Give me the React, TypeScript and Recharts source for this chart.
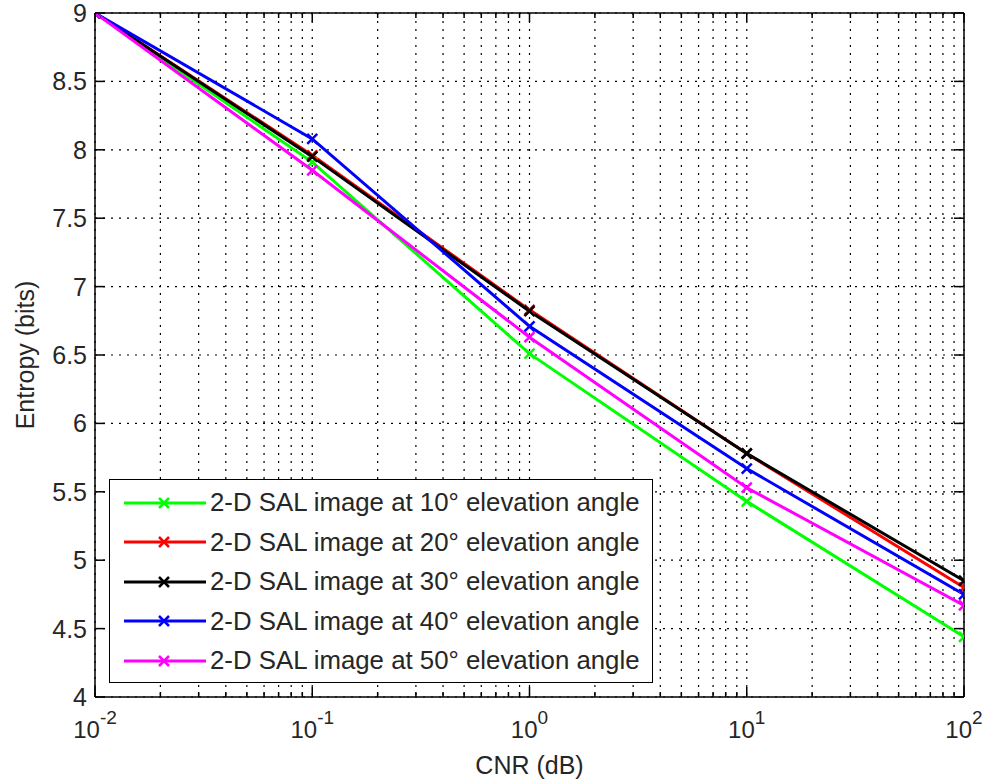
import React from "react";
import {
  LineChart,
  Line,
  XAxis,
  YAxis,
  CartesianGrid,
  Legend,
} from "recharts";

// CNR values (log axis) and entropy per elevation angle
const cnr = [0.01, 0.1, 1, 10, 100];
const sal10 = [9, 7.91, 6.51, 5.43, 4.44];
const sal20 = [9, 7.96, 6.83, 5.78, 4.8];
const sal30 = [9, 7.95, 6.82, 5.78, 4.85];
const sal40 = [9, 8.08, 6.71, 5.67, 4.75];
const sal50 = [9, 7.85, 6.63, 5.53, 4.67];

const decades = [0.01, 0.1, 1, 10];
const minorSteps = [1, 2, 3, 4, 5, 6, 7, 8, 9];
const decadeExp = ["-2", "-1", "0", "1", "2"];
const yTicks = [4, 4.5, 5, 5.5, 6, 6.5, 7, 7.5, 8, 8.5, 9];

const xTicks = [
  ...decades.flatMap((d) => minorSteps.map((m) => +(d * m).toPrecision(3))),
  100,
];
const majorTicks = [0.01, 0.1, 1, 10, 100];

const series = [
  { key: "sal10", name: "2-D SAL image at 10° elevation angle", color: "#00ff00" },
  { key: "sal20", name: "2-D SAL image at 20° elevation angle", color: "#ff0000" },
  { key: "sal30", name: "2-D SAL image at 30° elevation angle", color: "#000000" },
  { key: "sal40", name: "2-D SAL image at 40° elevation angle", color: "#0000ff" },
  { key: "sal50", name: "2-D SAL image at 50° elevation angle", color: "#ff00ff" },
];

const data = cnr.map((x, i) => ({
  cnr: x,
  sal10: sal10[i],
  sal20: sal20[i],
  sal30: sal30[i],
  sal40: sal40[i],
  sal50: sal50[i],
}));

const FONT = "'Liberation Sans', Arial, Helvetica, sans-serif";
const TXT = "#262626";

const isMajor = (v: number) => majorTicks.some((m) => Math.abs(m - v) < 1e-9);

const BottomTick = (props: any) => {
  const { x, y, payload } = props;
  const major = isMajor(payload.value);
  const idx = majorTicks.findIndex((m) => Math.abs(m - payload.value) < 1e-9);
  return (
    <g>
      <line x1={x} x2={x} y1={y} y2={y - (major ? 10 : 5)} stroke="#000" strokeWidth={1.5} />
      {major && (
        <text x={x} y={y + 41} textAnchor="middle" fontFamily={FONT} fontSize={24} fill={TXT}>
          <tspan>10</tspan>
          <tspan dy={-14} fontSize={19}>{decadeExp[idx]}</tspan>
        </text>
      )}
    </g>
  );
};

const TopTick = (props: any) => {
  const { x, y, payload } = props;
  const major = isMajor(payload.value);
  return <line x1={x} x2={x} y1={y} y2={y + (major ? 9 : 5)} stroke="#000" strokeWidth={1.5} />;
};

const LeftTick = (props: any) => {
  const { x, y, payload } = props;
  return (
    <g>
      <line x1={x} x2={x + 10} y1={y} y2={y} stroke="#000" strokeWidth={1.5} />
      <text x={x - 8} y={y} textAnchor="end" dominantBaseline="central" fontFamily={FONT} fontSize={25} fill={TXT}>
        {String(payload.value)}
      </text>
    </g>
  );
};

const RightTick = (props: any) => {
  const { x, y } = props;
  return <line x1={x} x2={x - 10} y1={y} y2={y} stroke="#000" strokeWidth={1.5} />;
};

const XLabel = ({ viewBox }: any) => (
  <text
    x={viewBox.x + viewBox.width / 2}
    y={viewBox.y + 77}
    textAnchor="middle"
    fontFamily={FONT}
    fontSize={25}
    fill={TXT}
  >
    CNR (dB)
  </text>
);

const YLabel = ({ viewBox }: any) => {
  const cx = viewBox.x + 25;
  const cy = viewBox.y + viewBox.height / 2;
  return (
    <text
      x={cx}
      y={cy}
      transform={`rotate(-90 ${cx} ${cy})`}
      textAnchor="middle"
      dominantBaseline="central"
      fontFamily={FONT}
      fontSize={25}
      fill={TXT}
    >
      Entropy (bits)
    </text>
  );
};

const cross = (cx: number, cy: number, r: number) =>
  `M${cx - r},${cy - r}L${cx + r},${cy + r}M${cx - r},${cy + r}L${cx + r},${cy - r}`;

const makeDot = (color: string) => (props: any) => {
  const { cx, cy, index } = props;
  return <path key={`d-${index}`} d={cross(cx, cy, 5)} stroke={color} strokeWidth={2.5} fill="none" />;
};

const LegendBox = ({ payload }: any) => (
  <div
    style={{
      width: 544,
      height: 204,
      border: "1.5px solid #000",
      background: "#fff",
      boxSizing: "border-box",
      paddingTop: 3,
    }}
  >
    {(payload || []).map((entry: any) => (
      <div key={entry.value} style={{ display: "flex", alignItems: "center", height: 39.5 }}>
        <svg width={100} height={20} style={{ flex: "none" }}>
          <line x1={14} x2={96} y1={10} y2={10} stroke={entry.color} strokeWidth={3} />
          <path d={cross(54, 10, 5)} stroke={entry.color} strokeWidth={2.5} fill="none" />
        </svg>
        <span style={{ fontFamily: FONT, fontSize: 25.8, color: TXT, whiteSpace: "nowrap" }}>
          {entry.value}
        </span>
      </div>
    ))}
  </div>
);

export default function App() {
  return (
    <div style={{ position: "absolute", left: 0, top: 0, width: 985, height: 782, background: "#fff" }}>
      <LineChart width={985} height={782} data={data} margin={{ top: 0, right: 0, bottom: 0, left: 0 }}>
        <CartesianGrid stroke="#000" strokeWidth={1.2} strokeDasharray="2 6" fill="none" />
        <XAxis
          dataKey="cnr"
          type="number"
          scale="log"
          domain={[0.01, 100]}
          allowDataOverflow
          ticks={xTicks}
          interval={0}
          height={85}
          tickSize={0}
          tickMargin={0}
          tickLine={false}
          tick={<BottomTick />}
          axisLine={{ stroke: "#000", strokeWidth: 1.5 }}
          label={<XLabel />}
        />
        <XAxis
          xAxisId="top"
          orientation="top"
          dataKey="cnr"
          type="number"
          scale="log"
          domain={[0.01, 100]}
          allowDataOverflow
          ticks={xTicks}
          interval={0}
          height={13}
          tickSize={0}
          tickMargin={0}
          tickLine={false}
          tick={<TopTick />}
          axisLine={{ stroke: "#000", strokeWidth: 1.5 }}
        />
        <YAxis
          type="number"
          domain={[4, 9]}
          allowDataOverflow
          ticks={yTicks}
          interval={0}
          width={95}
          tickSize={0}
          tickMargin={0}
          tickLine={false}
          tick={<LeftTick />}
          axisLine={{ stroke: "#000", strokeWidth: 1.5 }}
          label={<YLabel />}
        />
        <YAxis
          yAxisId="right"
          orientation="right"
          type="number"
          domain={[4, 9]}
          allowDataOverflow
          ticks={yTicks}
          interval={0}
          width={21}
          tickSize={0}
          tickMargin={0}
          tickLine={false}
          tick={<RightTick />}
          axisLine={{ stroke: "#000", strokeWidth: 1.5 }}
        />
        {series.map((s) => (
          <Line
            key={s.key}
            type="linear"
            dataKey={s.key}
            name={s.name}
            stroke={s.color}
            strokeWidth={3}
            dot={makeDot(s.color)}
            activeDot={false}
            isAnimationActive={false}
          />
        ))}
        <Legend
          layout="vertical"
          align="center"
          verticalAlign="middle"
          content={<LegendBox />}
          wrapperStyle={{ left: 109, top: 479, width: 544, height: 204 }}
        />
      </LineChart>
    </div>
  );
}
